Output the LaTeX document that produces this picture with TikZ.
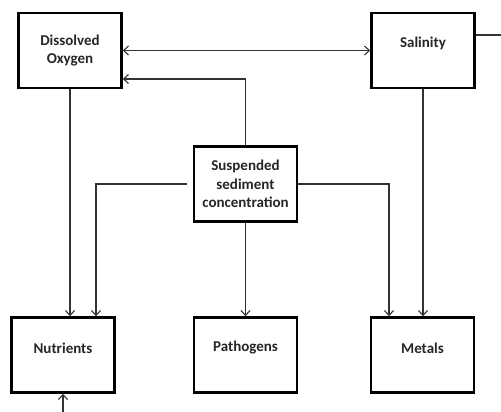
\documentclass[tikz,border=0pt]{standalone}
\usepackage{fontspec}
\setmainfont{Carlito}
\usetikzlibrary{arrows.meta}

\tikzset{%
        every factor/.style={
            rectangle,
            draw,
            line width=2.4pt,
            minimum width=103pt,
            minimum height=75pt,
            align=center,
            font=\bfseries\fontsize{15}{18.5}\selectfont,
            text=black!85
        },
        top text/.style={
            label={[yshift=7pt, font=\bfseries\fontsize{15}{18.5}\selectfont, text=black!85]center:#1}
        },
        link/.style={
            line width=1.1pt,
            draw=black!80
        },
    }

\begin{document}
\begin{tikzpicture}[x=1pt, y=-1pt, >={Straight Barb[length=5pt,width=9pt]}]

        \useasboundingbox (0,0) rectangle (501,412);

        \node [every factor] (oxygen) at (70,50.5) {Dissolved\\Oxygen};
        \node [every factor, top text=Salinity] (salinity) at (423,50.5) {};
        \node [every factor] (sediment) at (245.5,184) {Suspended\\sediment\\concentration};

        \foreach \n/\l/\x in {nutrients/Nutrients/63, pathogens/Pathogens/245.5, metals/Metals/422.5}
        \node [every factor, top text=\l] (\n) at (\x,355) {};

        \coordinate (off-right) at (501,35);
        \coordinate (off-bottom) at (63,412);

        \draw [link, <->] (oxygen.east) -- (salinity.west);
        \draw [link, ->] (sediment.north) |- ([yshift=-28.5pt]oxygen.east);
        \draw [link] (salinity.east |- off-right) -- (off-right);

        \draw [link, ->] (oxygen.south) -- (oxygen.south |- nutrients.north);
        \draw [link, ->, shorten <=6pt] (sediment.west) -| ([xshift=33pt]nutrients.north);
        \draw [link, ->] (sediment.south) -- (pathogens.north);
        \draw [link, ->] (sediment.east) -| ([xshift=-33.5pt]metals.north);
        \draw [link, ->] (salinity.south) -- (salinity.south |- metals.north);
        \draw [link, ->] (off-bottom) -- (nutrients.south);
    \end{tikzpicture}
\end{document}
